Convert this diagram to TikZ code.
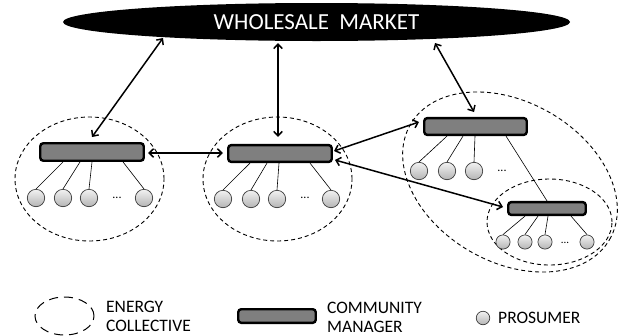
\documentclass[tikz,border=0pt]{standalone}
\usepackage{fontspec}
\setmainfont{Carlito}
\usetikzlibrary{shapes.geometric,arrows.meta,calc}

\definecolor{mgrgray}{HTML}{7F7F7F}
\definecolor{prostop}{HTML}{F2F2F2}
\definecolor{prosbot}{HTML}{B4B4B4}
\definecolor{prosline}{HTML}{3C3C3C}

\begin{document}
\begin{tikzpicture}[x=1pt,y=-1pt,
  market/.style={ellipse, fill=black, inner sep=0pt, text=white,
    font=\fontsize{23}{26}\selectfont},
  collective/.style={ellipse, draw=black, line width=0.9pt,
    dash pattern=on 4pt off 3pt, inner sep=0pt},
  manager/.style={rectangle, draw=black, line width=2.4pt, fill=mgrgray,
    rounded corners=3pt, inner sep=0pt},
  prosumer/.style={circle, draw=prosline, line width=0.7pt,
    top color=prostop, bottom color=prosbot, inner sep=0pt,
    minimum size=17.4pt},
  smallpros/.style={prosumer, minimum size=14.2pt},
  link/.style={draw=black, line width=0.6pt},
  flow/.style={{Straight Barb[length=4.5pt,width=8.5pt]}-{Straight Barb[length=4.5pt,width=8.5pt]},
    line width=1.5pt},
  more/.style={inner sep=0pt, font=\fontsize{12}{12}\selectfont},
  legend/.style={inner sep=0pt, align=left, anchor=west,
    font=\fontsize{17.5}{19}\selectfont}]

\useasboundingbox (0,0) rectangle (626,335);

% market
\node[market, minimum width=507pt, minimum height=38pt] (wm) at (316.5,22)
  {WHOLESALE\ \ MARKET};

% energy collectives
\node[collective, minimum width=149pt, minimum height=124pt] (ec1) at (89.5,179) {};
\node[collective, minimum width=149pt, minimum height=124pt] (ec2) at (277.5,179) {};
\node[collective, minimum width=230pt, minimum height=160pt, rotate=-30] (ec3) at (510,182) {};
\node[collective, minimum width=125pt, minimum height=86pt] (ec4) at (549.5,222) {};

% community managers
\node[manager, minimum width=103.5pt, minimum height=17.5pt] (m1) at (92,152) {};
\node[manager, minimum width=103.5pt, minimum height=16.8pt] (m2) at (280,153.5) {};
\node[manager, minimum width=102.5pt, minimum height=16.8pt] (m3) at (475.5,126.5) {};
\node[manager, minimum width=77.5pt, minimum height=12.8pt] (m4) at (547,208.5) {};

% prosumers
\node[prosumer] (p11) at (36,198) {};
\node[prosumer] (p12) at (63,198) {};
\node[prosumer] (p13) at (89,198) {};
\node[more]     (d1)  at (117,197.5) {...};
\node[prosumer] (p14) at (144,198) {};

\node[prosumer] (p21) at (223,199) {};
\node[prosumer] (p22) at (251,199) {};
\node[prosumer] (p23) at (277,199) {};
\node[more]     (d2)  at (305,198) {...};
\node[prosumer] (p24) at (331,199) {};

\node[prosumer] (p31) at (419,171) {};
\node[prosumer] (p32) at (447,171) {};
\node[prosumer] (p33) at (474,171) {};
\node[more]     (d3)  at (502,171) {...};

\node[smallpros] (p41) at (503,242) {};
\node[smallpros] (p42) at (525,242) {};
\node[smallpros] (p43) at (545,242) {};
\node[more, font=\fontsize{11}{11}\selectfont] (d4) at (565,243) {...};
\node[smallpros] (p44) at (587,242) {};

% manager-to-prosumer links
\draw[link] ([xshift=-29pt]m1.south) -- (p11.north);
\draw[link] ([xshift=-12pt]m1.south) -- (p12.north);
\draw[link] ([xshift=0pt]m1.south)   -- (p13.north);
\draw[link] ([xshift=31pt]m1.south)  -- (p14.north);

\draw[link] ([xshift=-30pt]m2.south) -- (p21.north);
\draw[link] ([xshift=-13pt]m2.south) -- (p22.north);
\draw[link] ([xshift=-1pt]m2.south)  -- (p23.north);
\draw[link] ([xshift=30pt]m2.south)  -- (p24.north);

\draw[link] ([xshift=-28.5pt]m3.south) -- (p31.north);
\draw[link] ([xshift=-12.5pt]m3.south) -- (p32.north);
\draw[link] ([xshift=-0.5pt]m3.south)  -- (p33.north);
\draw[link] ([xshift=30.5pt]m3.south)  -- (m4.north);

\draw[link] ([xshift=-22pt]m4.south) -- (p41.north);
\draw[link] ([xshift=-9pt]m4.south)  -- (p42.north);
\draw[link] ([xshift=1pt]m4.south)   -- (p43.north);
\draw[link] ([xshift=24pt]m4.south)  -- (p44.north);

% energy and information flows
\draw[flow] ($(wm)+(-153.5,16)$) -- ($(m1)+(0,-15)$);
\draw[flow] ($(wm)+(-38.5,21)$)  -- ($(m2)+(-2,-16.5)$);
\draw[flow] ($(wm)+(118.5,21)$)  -- ($(m3)+(-1.5,-14.5)$);
\draw[flow] ($(m1)+(56,1)$)      -- ($(m2)+(-57,-0.5)$);
\draw[flow] ($(m2)+(54,-2.5)$)   -- ($(m3)+(-56.5,-4.5)$);
\draw[flow] ($(m2)+(55,6.5)$)    -- ($(m4)+(-44,-1.5)$);

% legend
\node[collective, line width=1pt, dash pattern=on 9pt off 6pt,
  minimum width=59pt, minimum height=38pt] (lg1) at (64.5,316) {};
\node[legend] (lt1) at (106,316.5) {ENERGY\\COLLECTIVE};
\node[manager, minimum width=77.5pt, minimum height=13.6pt] (lg2) at (277,316) {};
\node[legend] (lt2) at (327,317) {COMMUNITY\\MANAGER};
\node[prosumer, minimum size=13.5pt] (lg3) at (483,318) {};
\node[legend] (lt3) at (498,317.5) {PROSUMER};

\end{tikzpicture}
\end{document}
